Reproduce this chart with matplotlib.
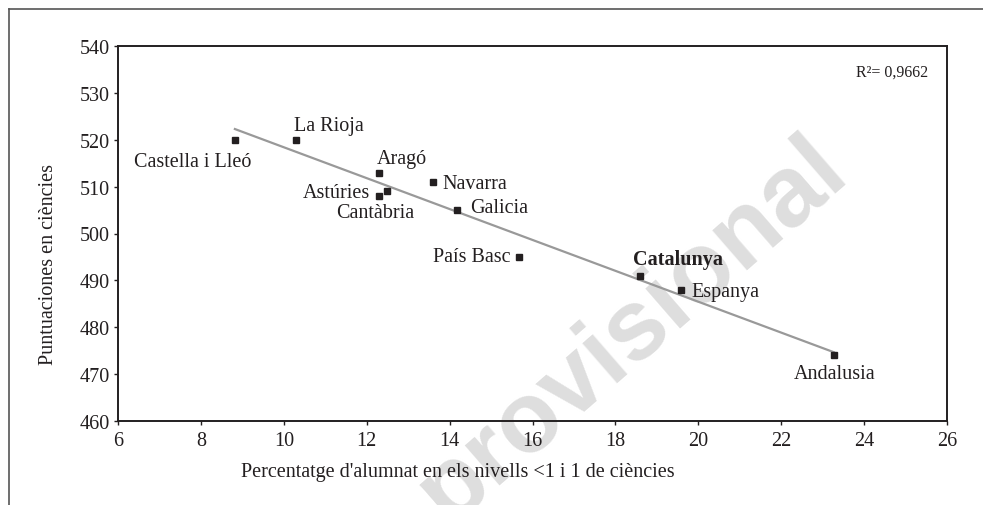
import matplotlib
matplotlib.use("Agg")
import matplotlib.pyplot as plt
from matplotlib.lines import Line2D
import numpy as np

# data
regions = ["Castella i Lleó", "La Rioja", "Aragó", "Astúries", "Cantàbria",
           "Navarra", "Galicia", "País Basc", "Catalunya", "Espanya", "Andalusia"]
pct_low = [8.82, 10.29, 12.30, 12.30, 12.50, 13.59, 14.19, 15.67, 18.59, 19.58, 23.27]
score = [520, 520, 513, 508, 509, 511, 505, 495, 491, 488, 474]
r2_text = "R²= 0,9662"

xticks = list(range(6, 27, 2))
yticks = list(range(460, 541, 10))

# label offsets in pixels (dx, dy, ha)
label_pos = {
    "Castella i Lleó": (-42, -26, "center"),
    "La Rioja": (33, 10, "center"),
    "Aragó": (23, 10, "center"),
    "Astúries": (-9, -1, "right"),
    "Cantàbria": (-12, -26, "center"),
    "Navarra": (10, -6, "left"),
    "Galicia": (13, -2, "left"),
    "País Basc": (-8, -4, "right"),
    "Catalunya": (-7, 12, "left"),
    "Espanya": (11, -6, "left"),
    "Andalusia": (1, -23, "center"),
}

plt.rcParams['font.family'] = ['Liberation Serif', 'DejaVu Serif']
ink = '#231f20'

fig = plt.figure(figsize=(9.83, 5.06), dpi=100)
ax = fig.add_axes([118 / 983, 1 - 422 / 506, (947 - 118) / 983, (422 - 47) / 506])
ax.patch.set_alpha(0)

# watermark behind the marks
ax.text(632 / 983, 1 - 330 / 506, "provisional", fontsize=72, fontweight='bold',
        family='Liberation Sans', color='#dedede', rotation=41,
        ha='center', va='center', zorder=0, rotation_mode='anchor',
        transform=fig.transFigure, clip_on=False)

# trend line from a linear fit
coef = np.polyfit(pct_low, score, 1)
xs = np.array([min(pct_low), max(pct_low)])
ax.plot(xs, np.polyval(coef, xs), color='#999999', lw=1.6, zorder=2)

ax.plot(pct_low, score, 's', color=ink, markersize=4.3, zorder=3)

for name, x, y in zip(regions, pct_low, score):
    dx, dy, ha = label_pos[name]
    ax.annotate(name, (x, y), xytext=(dx, dy), textcoords='offset pixels',
                ha=ha, va='baseline', fontsize=14.5, color=ink, zorder=4,
                fontweight='bold' if name == "Catalunya" else 'normal')

ax.set_xlim(6, 26)
ax.set_ylim(460, 540)
ax.set_xticks(xticks)
ax.set_yticks(yticks)
ax.tick_params(direction='out', length=3, width=1, colors=ink, labelsize=14.5, pad=3)
ax.tick_params(axis='x', pad=4)
for s in ax.spines.values():
    s.set_linewidth(1.4)
    s.set_color(ink)
    s.set_zorder(5)

ax.text(928 / 983, 1 - 77 / 506, r2_text, transform=fig.transFigure,
        ha='right', va='baseline', fontsize=11.5, color=ink)

fig.text(458 / 983, 1 - 472 / 506, "Percentatge d'alumnat en els nivells <1 i 1 de ciències",
         ha='center', va='center', fontsize=14.5, color=ink)
fig.text(49 / 983, 1 - 265 / 506, "Puntuaciones en ciències", rotation=90,
         ha='center', va='center', fontsize=14.5, color=ink)

# outer frame: top and left lines
fig.add_artist(Line2D([9 / 983, 1], [1 - 10 / 506, 1 - 10 / 506], color='#555555', lw=1.2))
fig.add_artist(Line2D([9 / 983, 9 / 983], [0, 1 - 10 / 506], color='#555555', lw=1.2))

fig.savefig("out.png", dpi=100)
